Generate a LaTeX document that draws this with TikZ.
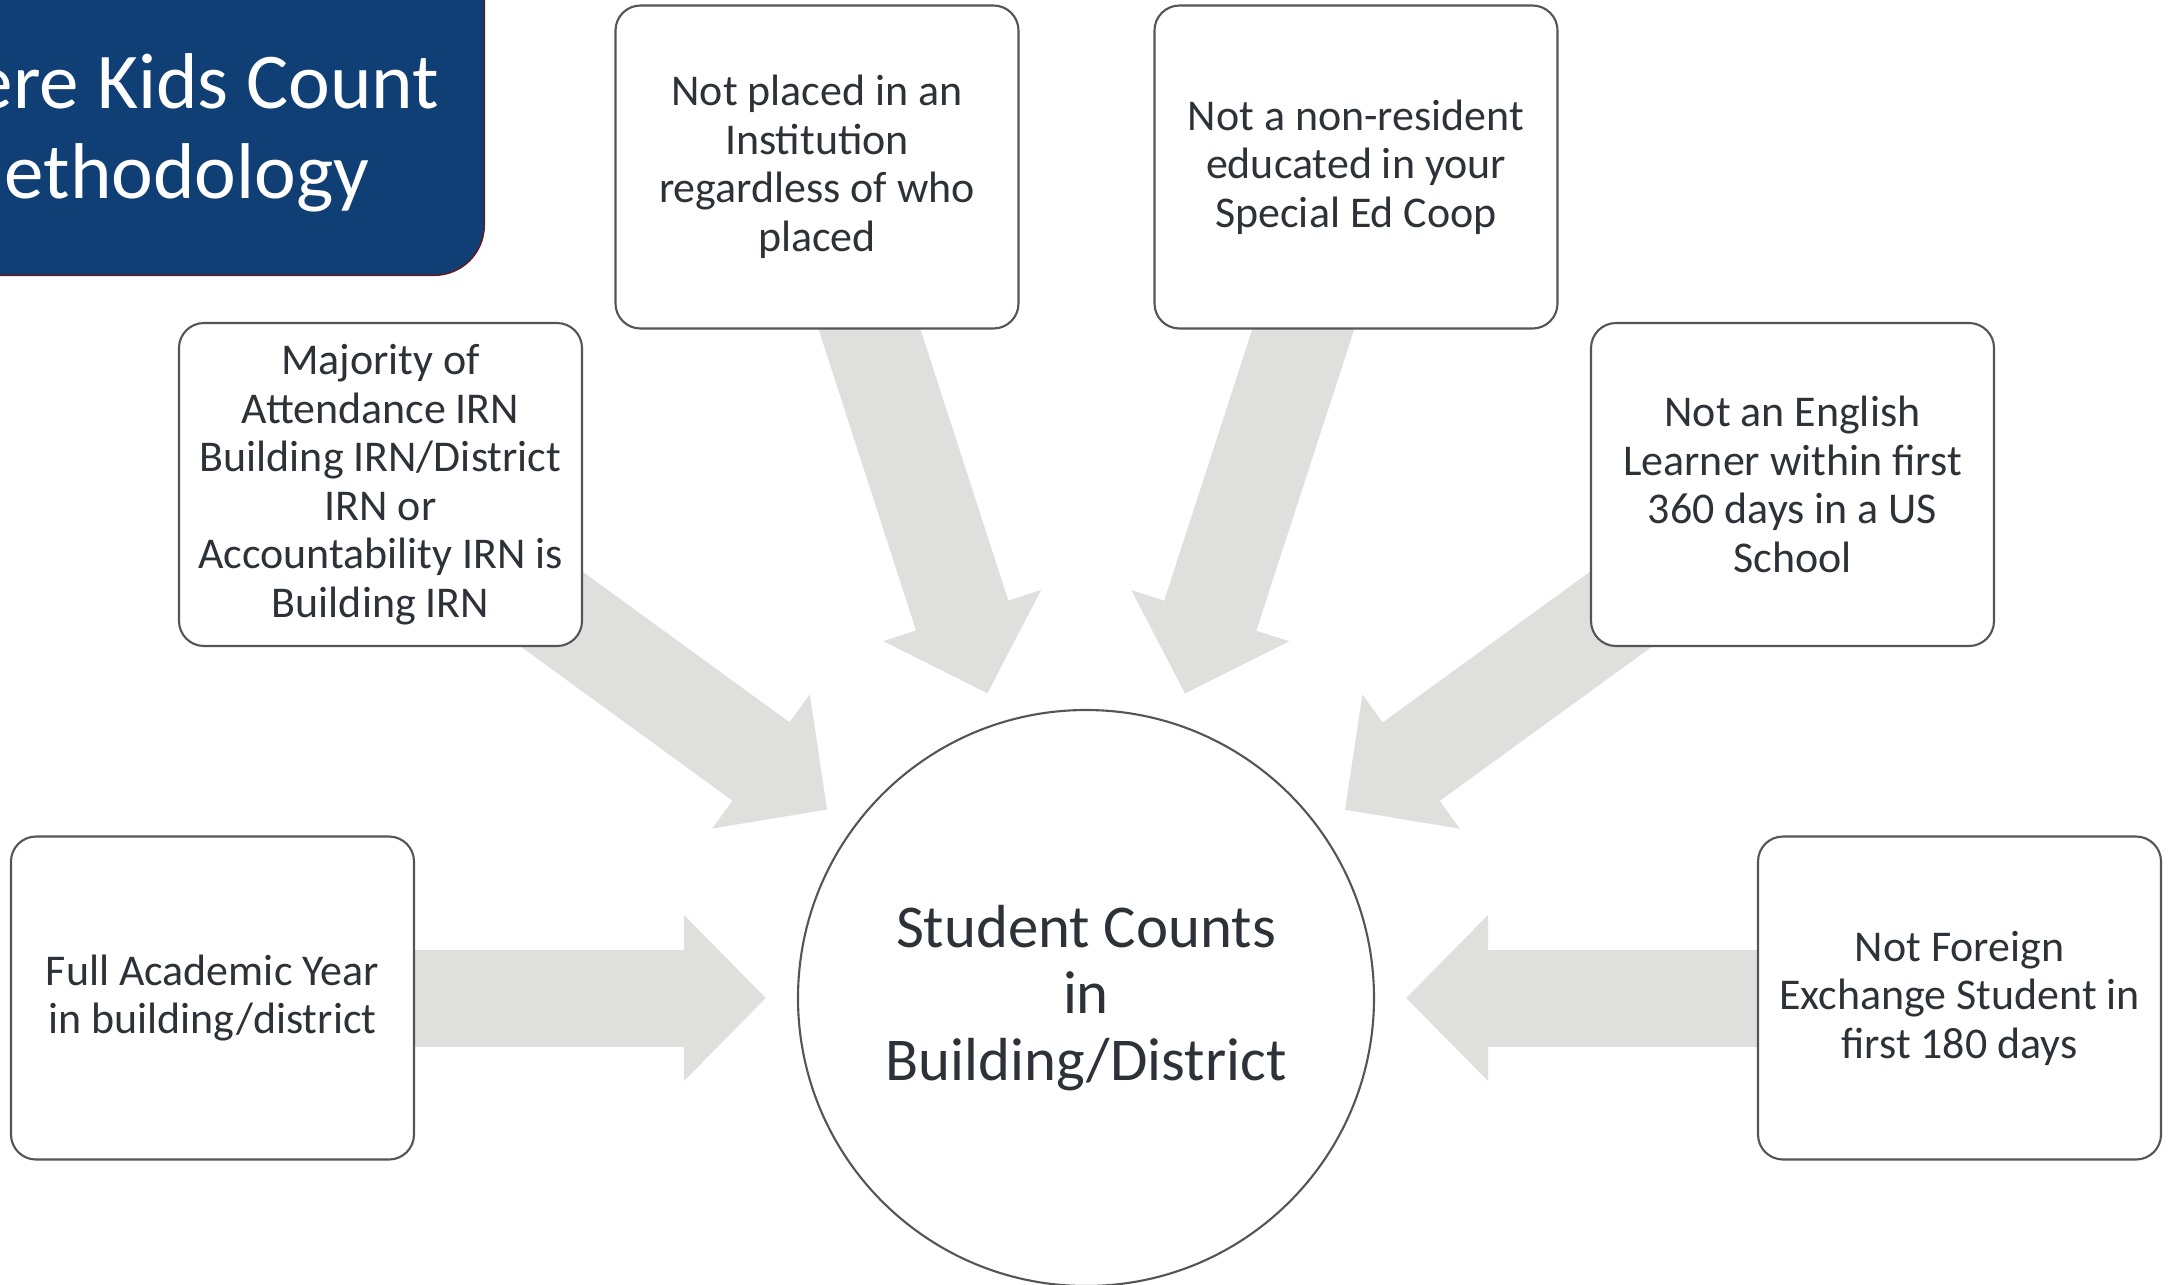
\documentclass[tikz,border=0pt]{standalone}
\usepackage{fontspec}
\setmainfont{Carlito}
\usetikzlibrary{calc, arrows.meta, backgrounds}

\definecolor{arrowgray}{RGB}{223,224,222}
\definecolor{boxline}{RGB}{85,85,85}
\definecolor{boxtext}{RGB}{45,50,56}
\definecolor{titleblue}{RGB}{16,63,117}
\definecolor{titleline}{RGB}{100,25,30}

\tikzset{
    crit box/.style={draw=boxline, line width=0.6pt, fill=white, rounded corners=0.25cm, minimum width=4.03cm, minimum height=3.23cm, inner sep=0pt, align=center, text=boxtext, font=\fontsize{12.5}{13.8}\selectfont},
    fat arrow/.style={draw=arrowgray, line width=0.97cm, -{Triangle[width=1.61cm, length=0.82cm]}},
    title text/.style={anchor=base east, inner sep=0pt, text=white, font=\fontsize{22.5}{25}\selectfont},
}

\begin{document}
\begin{tikzpicture}
    \useasboundingbox (0,0) rectangle (21.73,-12.84);

    % title box, cut by the page edge
    \node (title box) at (4.85,-2.76) [anchor=south east, draw=titleline, fill=titleblue, rounded corners=0.5cm, minimum width=8cm, minimum height=4cm] {};
    \node[title text] (title 1) at (4.40,-1.08) {Where Kids Count};
    \node[title text] (title 2) at (3.70,-1.98) {Methodology};

    % criteria
    \node[crit box] (full year) at (2.125,-9.98) {Full Academic Year\\in building/district};
    \node[crit box] (majority) at (3.805,-4.845) {Majority of\\Attendance IRN\\Building IRN/District\\IRN or\\Accountability IRN is\\Building IRN};
    \node[crit box] (institution) at (8.17,-1.67) {Not placed in an\\Institution\\regardless of who\\placed};
    \node[crit box] (coop) at (13.56,-1.67) {Not a non-resident\\educated in your\\Special Ed Coop};
    \node[crit box] (english) at (17.925,-4.845) {Not an English\\Learner within first\\360 days in a US\\School};
    \node[crit box] (foreign) at (19.595,-9.98) {Not Foreign\\Exchange Student in\\first 180 days};

    \node (counts) at (10.86,-9.98) [draw=boxline, line width=0.6pt, circle, fill=white, minimum size=5.76cm, align=center, text=boxtext, font=\fontsize{17.3}{18.9}\selectfont] {Student Counts\\in\\Building/District};

    % arrows behind the boxes
    \begin{pgfonlayer}{background}
        \foreach \src in {full year, majority, institution, coop, english, foreign}
            \draw[fat arrow] (\src.center) -- ($(counts.center)!3.2cm!(\src.center)$);
    \end{pgfonlayer}
\end{tikzpicture}
\end{document}
